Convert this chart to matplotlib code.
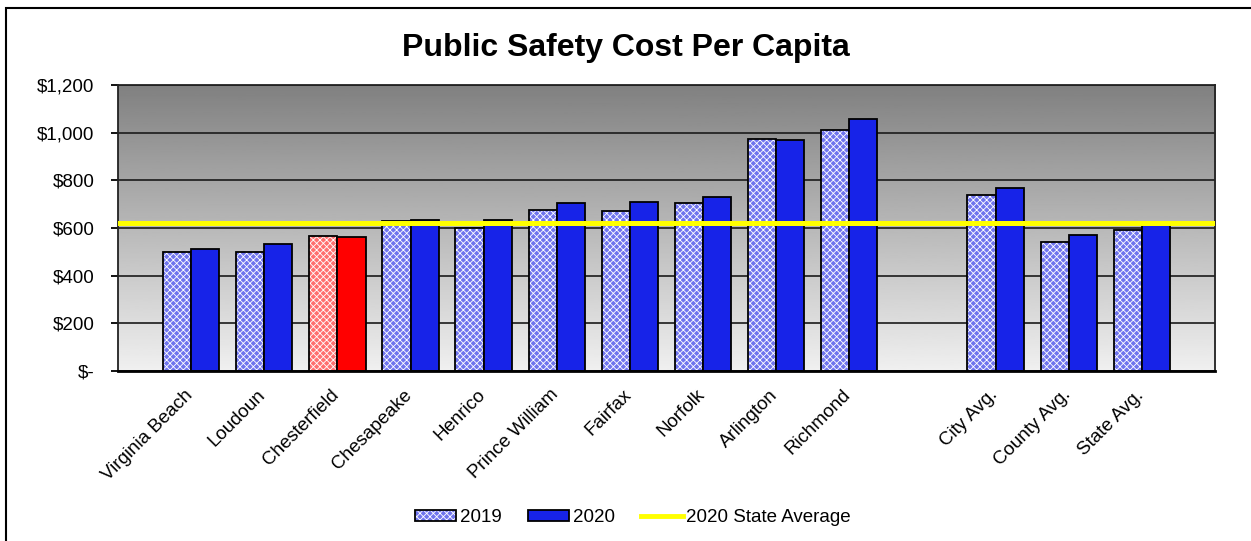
import numpy as np
import matplotlib
matplotlib.use("Agg")
import matplotlib.pyplot as plt
from matplotlib.patches import Patch, Rectangle
from matplotlib.lines import Line2D
from matplotlib.transforms import ScaledTranslation
from matplotlib.ticker import FuncFormatter

# Data
categories = ["Virginia Beach", "Loudoun", "Chesterfield", "Chesapeake", "Henrico",
              "Prince William", "Fairfax", "Norfolk", "Arlington", "Richmond",
              "", "City Avg.", "County Avg.", "State Avg."]
cost_2019 = [498, 500, 568, 631, 599, 676, 671, 706, 975, 1011, np.nan, 740, 541, 592]
cost_2020 = [513, 534, 564, 635, 635, 705, 708, 730, 969, 1057, np.nan, 769, 571, 612]
state_avg_2020 = 620
highlight = "Chesterfield"

blue_2020 = "#1723e8"
blue_2019 = "#6f74ee"
red_2020 = "#ff0000"
red_2019 = "#ff6f6f"

plt.rcParams["font.family"] = ["Liberation Sans", "DejaVu Sans"]
plt.rcParams["hatch.color"] = "white"
plt.rcParams["hatch.linewidth"] = 0.6

fig = plt.figure(figsize=(12.51, 5.41), dpi=100)
ax = fig.add_axes([0.0943, 0.3142, 0.8769, 0.5287])

# gradient plot background
grad = np.linspace(240, 128, 256).reshape(-1, 1) / 255.0
ax.imshow(grad, cmap="gray", vmin=0, vmax=1, aspect="auto",
          extent=[0, 1, 0, 1], transform=ax.transAxes, origin="lower", zorder=0)

x = np.arange(len(categories))
w = 0.385
c19 = [red_2019 if c == highlight else blue_2019 for c in categories]
c20 = [red_2020 if c == highlight else blue_2020 for c in categories]

ax.bar(x - w / 2, cost_2019, w, color=c19, hatch="xxxxx", linewidth=0, zorder=2)
ax.bar(x - w / 2, cost_2019, w, fill=False, edgecolor="black", linewidth=1.3, zorder=3)
ax.bar(x + w / 2, cost_2020, w, color=c20, edgecolor="black", linewidth=1.3, zorder=3)

ax.axhline(state_avg_2020, color="#ffff00", linewidth=3.6, zorder=4)

ax.set_xlim(-1, 14)
ax.set_ylim(0, 1200)
ax.set_yticks(range(0, 1201, 200))
ax.yaxis.set_major_formatter(FuncFormatter(lambda v, p: "$-" if v == 0 else "${:,.0f}".format(v)))
ax.yaxis.grid(True, color="#1a1a1a", linewidth=1.2, zorder=1)
ax.set_axisbelow(True)
ax.tick_params(axis="y", length=5, width=1.3, pad=12, labelsize=13.5, color="black")
ax.tick_params(axis="x", length=0, pad=11, labelsize=13.5)

ax.set_xticks(x)
ax.set_xticklabels(categories, rotation=45, ha="right", va="top", rotation_mode="anchor")
for lab in ax.get_xticklabels():
    lab.set_transform(lab.get_transform() + ScaledTranslation(-0.07, 0, fig.dpi_scale_trans))

for side in ["left", "top", "right"]:
    ax.spines[side].set_color("#222222")
    ax.spines[side].set_linewidth(1.3)
ax.spines["bottom"].set_linewidth(2)
ax.spines["bottom"].set_zorder(5)

fig.text(0.5, 0.912, "Public Safety Cost Per Capita", ha="center", va="center",
         fontsize=23, fontweight="bold")

# legend
h19 = (Patch(facecolor=blue_2019, hatch="xxxxx", linewidth=0),
       Patch(fill=False, edgecolor="black", linewidth=1.3))
h20 = Patch(facecolor=blue_2020, edgecolor="black", linewidth=1.3)
hline = Line2D([], [], color="#ffff00", linewidth=3.5)
fig.legend([h19, h20, hline], ["2019", "2020", "2020 State Average"],
           loc="center", bbox_to_anchor=(0.506, 0.043), ncol=3, frameon=False,
           fontsize=13.5, handlelength=2.2, handleheight=0.55, handletextpad=0.2,
           columnspacing=1.4)

# outer chart border
fig.patches.append(Rectangle((6 / 1251, -0.2), 1.5, 1.2 - 8 / 541, transform=fig.transFigure,
                             fill=False, edgecolor="black", linewidth=1.5))

fig.savefig("out.png", dpi=100)
